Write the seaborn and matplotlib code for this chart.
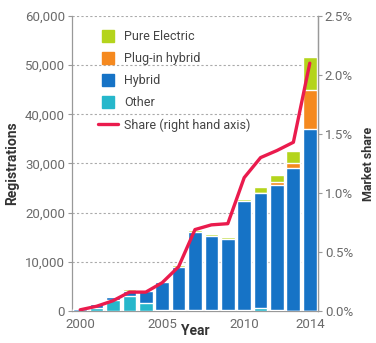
import numpy as np
import pandas as pd
import matplotlib
matplotlib.use("Agg")
import matplotlib.pyplot as plt
import seaborn as sns
from matplotlib.lines import Line2D
from matplotlib.ticker import FuncFormatter, FixedLocator

years = list(range(2000, 2015))
other = [0, 650, 2250, 3050, 1700, 300, 200, 200, 150, 150, 200, 650, 250, 100, 100]
hybrid = [450, 700, 500, 1000, 2300, 5650, 8800, 15850, 15100, 14430, 22100, 23400, 25300, 29000, 37000]
plugin = [0, 0, 0, 0, 0, 0, 0, 0, 0, 0, 0, 0, 600, 950, 7750]
pure_electric = [0, 0, 300, 350, 0, 0, 400, 400, 400, 400, 400, 1200, 1500, 2550, 6800]
share = [0.01, 0.04, 0.087, 0.16, 0.16, 0.24, 0.375, 0.69, 0.73, 0.74, 1.13, 1.30, 1.36, 1.43, 2.10]
tick_years = [2000, 2005, 2010, 2014]

C_PE = "#b4d41c"
C_PI = "#f5891f"
C_HY = "#1673c6"
C_OT = "#26b7cb"
C_SH = "#ea1b4d"
GRAY = "#6a6a6a"

sns.set_theme(style="white")
plt.rcParams["font.family"] = ["Roboto", "DejaVu Sans"]

df = pd.DataFrame({"year": [str(y) for y in years], "other": other, "hybrid": hybrid,
                   "plugin": plugin, "pe": pure_electric, "share": share})
df["c_ot"] = df["other"]
df["c_hy"] = df["c_ot"] + df["hybrid"]
df["c_pi"] = df["c_hy"] + df["plugin"]
df["c_pe"] = df["c_pi"] + df["pe"]
df["idx"] = np.arange(len(df))

fig = plt.figure(figsize=(3.76, 3.43), dpi=100)
ax = fig.add_axes([0.1915, 0.0933, 0.6542, 0.8601])

for col, c in [("c_pe", C_PE), ("c_pi", C_PI), ("c_hy", C_HY), ("c_ot", C_OT)]:
    sns.barplot(data=df, x="year", y=col, color=c, saturation=1, width=0.84, ax=ax, zorder=3)

ax.set_ylim(0, 60000)
ax.set_xlim(-0.5, 14.5)
ax.yaxis.set_major_locator(FixedLocator(np.arange(0, 60001, 10000)))
ax.yaxis.set_major_formatter(FuncFormatter(lambda v, p: f"{int(v):,}"))
ax.grid(axis="y", color="#aaaaaa", linestyle=(0, (2, 2)), linewidth=0.8, zorder=0)
ax.set_axisbelow(True)

ax.set_xticks([y - 2000 for y in tick_years])
ax.set_xticklabels([str(y) for y in tick_years])
ax.set_xticks(np.arange(-0.5, 15, 1), minor=True)
ax.tick_params(axis="x", which="major", length=0, labelsize=9.5, colors=GRAY, pad=5)
ax.tick_params(axis="x", which="minor", length=4, width=0.8, color="#999999", direction="out")
ax.tick_params(axis="y", length=3, width=0.8, color="#999999", labelsize=9.5, labelcolor=GRAY, pad=2, left=True)

for s in ["top"]:
    ax.spines[s].set_visible(False)
for s in ["left", "bottom", "right"]:
    ax.spines[s].set_color("#999999")
    ax.spines[s].set_linewidth(0.9)

ax.set_xlabel("Year", fontsize=10, fontweight="bold", color="#333333", labelpad=-5)
ax.set_ylabel("Registrations", fontsize=10, fontweight="bold", color="#333333", labelpad=4)

ax2 = ax.twinx()
sns.lineplot(data=df, x="idx", y="share", color=C_SH, linewidth=2.4, ax=ax2, zorder=5)
ax2.set_xlim(-0.5, 14.5)
ax2.set_ylim(0, 2.5)
ax2.yaxis.set_major_locator(FixedLocator(np.arange(0, 2.51, 0.5)))
ax2.yaxis.set_major_formatter(FuncFormatter(lambda v, p: f"{v:.1f}%"))
ax2.tick_params(axis="y", length=3, width=0.8, color="#999999", labelsize=9.5, labelcolor=GRAY, pad=2, right=True)
ax2.set_ylabel("Market share", fontsize=9, fontweight="bold", color="#333333", labelpad=6)
for s in ["top", "left", "bottom"]:
    ax2.spines[s].set_visible(False)
ax2.spines["right"].set_color("#999999")
ax2.spines["right"].set_linewidth(0.9)
ax2.set_xlabel("")

handles = [
    Line2D([], [], marker="s", linestyle="none", markersize=8, color=C_PE),
    Line2D([], [], marker="s", linestyle="none", markersize=8, color=C_PI),
    Line2D([], [], marker="s", linestyle="none", markersize=8, color=C_HY),
    Line2D([], [], marker="s", linestyle="none", markersize=8, color=C_OT),
    Line2D([], [], color=C_SH, linewidth=2.4),
]
labels = ["Pure Electric", "Plug-in hybrid", "Hybrid", "Other", "Share (right hand axis)"]
leg = ax2.legend(handles, labels, loc="upper left", bbox_to_anchor=(0.06, 0.99), frameon=False,
                 fontsize=9, labelspacing=0.72, handlelength=1.6, handletextpad=0.5,
                 labelcolor="#444444")

fig.savefig("out.png", dpi=100)
